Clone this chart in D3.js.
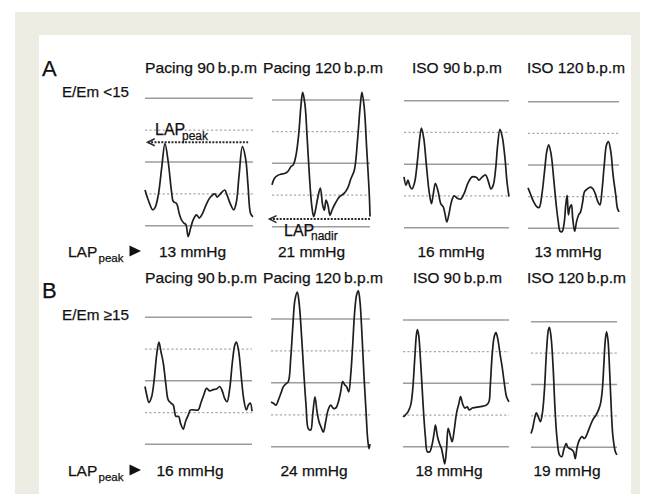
<!DOCTYPE html>
<html><head><meta charset="utf-8">
<script src="https://cdn.jsdelivr.net/npm/d3@7"></script>
<style>body{margin:0;background:#fff}svg{display:block}text{stroke:#111;stroke-width:0.25px;fill:#111}</style>
</head><body><svg id="c" width="654" height="494"></svg>
<script>
// ---------------- data ----------------
const rowLetters = ["A", "B"];
const rowConditions = ["E/Em <15", "E/Em \u226515"];
const protocols = ["Pacing 90\u2009b.p.m", "Pacing 120\u2009b.p.m", "ISO 90\u2009b.p.m", "ISO 120\u2009b.p.m"];
const lapPeakA = [13, 21, 16, 13];   // mmHg
const lapPeakB = [16, 24, 18, 19];   // mmHg
const gridLevels = [0, 5, 10, 15, 20]; // mmHg
const solidLevels = [0, 10, 20];
const lapPeakMarkerA1 = 13.1;  // mmHg, dotted arrow in A / Pacing 90
const lapNadirMarkerA2 = 1.2;  // mmHg, dotted arrow in A / Pacing 120

// waveforms: [time (% of window), LAP (mmHg)]
const waveA1 = [[0,5.6],[3.1,4.0],[7.1,2.5],[9.2,2.8],[12.3,4.8],[15.4,9.0],[18.5,12.9],[21.5,10.0],[24.6,5.3],[26.2,3.8],[29.2,3.5],[31.7,1.9],[33.8,0.9],[36,0.4],[37.8,0.2],[40,-1.7],[42.2,-0.4],[44.6,0.9],[47.7,1.7],[50.2,1.2],[53.2,1.9],[56.9,3.4],[60.6,4.5],[64.6,5.0],[66.8,4.5],[69.8,5.0],[73.8,5.6],[76,4.8],[79.1,3.4],[82.2,2.5],[84.6,3.7],[87.1,7.9],[90.2,12.4],[93.2,10.5],[95.4,6.3],[97.8,1.9],[100,1.4]];
const waveA2 = [[0,6.6],[2.4,7.6],[5.8,8.1],[9.2,8.3],[12.6,8.4],[16,8.7],[19.4,9.5],[21.8,9.8],[24.5,11.3],[27.2,14.5],[29.6,19.2],[31.3,21.2],[33.7,19.2],[35.7,14.5],[38.1,8.2],[40.5,3.4],[42.5,1.6],[44.2,2.5],[46.6,4.5],[49.3,6.1],[51.7,3.4],[53.4,2.6],[55.1,4.2],[57.1,3.4],[59.2,1.8],[61.2,2.6],[64.6,3.7],[68.7,4.7],[73.8,5.3],[77.2,6.1],[80.6,7.6],[84,8.9],[87.4,13.9],[90.1,19.2],[91.8,21.2],[94.2,18.7],[96.6,12.4],[99.3,5.0],[100,1.6]];
const waveA3 = [[0,8.0],[1.9,6.7],[3.8,7.5],[5.7,6.5],[7.6,6.1],[10.2,7.2],[12.7,10.4],[15,14.1],[16.6,15.7],[18.8,14.1],[21.3,9.9],[23.9,5.7],[26.1,3.8],[27.7,5.1],[29.9,7.0],[32.5,5.7],[35,3.8],[37.3,3.3],[38.9,2.3],[40.8,0.9],[43,2.3],[45.2,4.1],[47.8,5.0],[51,4.6],[54.1,4.5],[57.3,5.4],[61.1,7.1],[65,8.0],[69.1,7.9],[71.3,7.5],[74.5,8.0],[77.7,8.3],[80.3,7.3],[82.8,6.1],[85,6.7],[87.3,9.3],[89.2,13.0],[91.4,15.5],[93.6,14.3],[96.2,10.9],[98.1,7.2],[100,4.9]];
const waveA4 = [[0,6.4],[2.5,5.5],[6.1,4.2],[9.7,3.4],[12.3,3.3],[15.2,5.3],[18.1,8.9],[20.6,12.1],[22.7,13.2],[25.3,11.8],[28.2,7.9],[31,3.7],[33.2,1.1],[35.4,-0.5],[37.5,-0.5],[39.7,0.8],[41.5,3.7],[43,5.2],[44.4,2.1],[45.8,3.2],[47.7,3.7],[49.1,1.6],[51.3,-0.5],[53.4,1.1],[55.6,2.1],[57.8,2.6],[60.1,4.2],[62.1,5.8],[65,6.2],[68.6,6.5],[71.5,6.2],[74.4,5.3],[76.5,4.3],[79.1,3.7],[81.2,5.8],[83.8,10.0],[86.3,13.2],[88.4,13.7],[91,12.1],[93.5,8.4],[96.4,5.3],[98.2,3.2],[100,2.6]];
const waveB1 = [[0,9.1],[1.6,7.8],[3.7,6.6],[6.2,7.5],[8.4,9.9],[10.9,14.1],[13,16.1],[14.9,14.6],[17.1,12.8],[19.6,9.3],[21.7,7.0],[24.2,6.5],[26.4,6.2],[28.9,4.4],[31.4,4.4],[33.2,3.3],[35.7,2.4],[37.9,3.6],[40.4,4.6],[42.5,5.4],[46.6,5.4],[49.7,5.4],[52.2,6.5],[55,7.8],[57.5,8.8],[60.6,8.4],[63.7,8.6],[66.8,8.7],[69.9,9.1],[72.4,8.3],[74.5,7.2],[76.7,6.7],[79.2,8.8],[81.7,13.0],[83.9,15.6],[85.4,16.1],[87.6,14.6],[90.1,10.4],[92.2,7.2],[94.7,5.4],[96.6,6.2],[98.4,6.5],[100,5.2]];
const waveB2 = [[0,7.0],[2.4,6.8],[5.1,6.5],[7.4,7.3],[10.1,8.4],[12.5,9.4],[14.8,9.8],[17.5,10.2],[19.9,13.8],[21.9,18.5],[24.2,23.0],[26.6,24.2],[28.6,22.2],[31,17.0],[33.3,11.2],[35.4,6.5],[37.7,2.8],[40.1,2.6],[42.1,5.0],[44.4,7.8],[46.5,5.5],[48.5,3.9],[50.5,3.1],[52.9,2.3],[55.2,3.9],[57.6,5.7],[60.3,6.5],[63,6.0],[65.7,6.1],[68,7.0],[70.4,8.6],[72.4,10.2],[74.4,9.7],[76.4,9.4],[78.5,8.6],[80.5,11.2],[82.5,15.9],[84.5,21.1],[86.5,23.8],[88.2,24.4],[89.9,22.7],[91.9,17.5],[93.9,11.2],[96,5.5],[97.6,1.3],[99,-0.3],[100,0.4]];
const waveB3 = [[0,4.7],[2.2,5.0],[4.7,5.5],[7.3,6.6],[9.1,8.9],[11,13.7],[12.6,17.6],[13.6,18.5],[14.8,17.6],[16.7,13.2],[18.9,6.8],[21.1,1.6],[23,-0.8],[25.2,-0.8],[27.4,0.3],[29.3,2.1],[30.6,3.4],[32.5,1.6],[34.4,0.5],[36.3,-0.3],[37.9,-1.6],[39.4,-2.7],[41,-0.5],[42.6,2.9],[44.5,1.8],[46.4,0.8],[48.3,2.6],[50.5,5.3],[52.7,6.8],[54.3,7.9],[56.2,6.8],[58.4,6.1],[60.6,6.3],[62.5,5.8],[65.3,6.1],[68.5,6.2],[71.6,6.3],[75.7,6.4],[78.9,6.6],[81.1,7.1],[82.3,9.5],[84.2,14.7],[86.1,17.4],[87.7,18.0],[89.3,17.1],[91.5,14.7],[93.7,12.4],[95.6,10.0],[97.8,7.8],[100,7.1]];
const waveB4 = [[0,2.2],[1.9,3.0],[3.9,4.4],[6.2,5.5],[8.6,4.8],[10.9,4.1],[13.2,5.4],[15.6,9.1],[17.9,15.0],[20.2,18.7],[21.4,19.1],[23.3,17.6],[25.7,12.8],[28,5.9],[30.4,1.2],[33.1,-1.2],[35.8,-1.5],[38.1,-0.4],[40.9,0.6],[42.8,0],[44.7,-0.2],[46.7,-0.3],[49.4,-0.7],[51.4,-1.8],[53.7,0.1],[56.4,1.2],[59.1,1.7],[62.3,1.4],[65.4,2.2],[68.5,3.3],[72,4.4],[75.5,5.1],[78.6,6.0],[80.9,7.0],[82.9,9.1],[84.8,13.4],[86.4,17.1],[87.9,18.4],[89.5,17.1],[91.4,12.3],[93.4,5.9],[95.3,1.7],[98.1,-0.7],[100,-1.2]];

const waves = [[waveA1, waveA2, waveA3, waveA4], [waveB1, waveB2, waveB3, waveB4]];
const lapPeaks = [lapPeakA, lapPeakB];

// ---------------- layout ----------------
const FONT = "'Liberation Sans', Arial, Helvetica, sans-serif";
const svg = d3.select("#c");
svg.append("rect").attr("x", 15).attr("y", 12).attr("width", 625).attr("height", 494).attr("fill", "#edece2");
svg.append("rect").attr("x", 39).attr("y", 35).attr("width", 592).attr("height", 470).attr("fill", "#ffffff");

const layout = [
  { letterY: 76, condY: 97, titleY: 72.5, valueY: 257,
    px: [[145,253],[272,370],[404,509],[528,619]],
    py: [[225.7,98.3],[226.7,100],[227.7,100.7],[228.3,101.7]],
    titleX: [145,263,412,527], titleW: [112,120,90,98],
    valueC: [192.5,311.5,451,568] },
  { letterY: 298, condY: 320, titleY: 283, valueY: 476,
    px: [[145,252],[271,370],[403,509],[531,617]],
    py: [[444.3,317.3],[446.7,319],[446.7,320],[447.3,321.7]],
    titleX: [145,263,413,527], titleW: [112,120,89,99],
    valueC: [190,314,449,567] }
];

const scalesByPanel = [];
layout.forEach((L, r) => {
  svg.append("text").attr("x", 42).attr("y", L.letterY).attr("font-family", FONT)
     .attr("font-size", 22).text(rowLetters[r]);
  svg.append("text").attr("x", 62).attr("y", L.condY).attr("font-family", FONT)
     .attr("font-size", 15).attr("textLength", 67).attr("lengthAdjust", "spacingAndGlyphs")
     .text(rowConditions[r]);
  // LAPpeak ▶ label
  const ly = L.valueY;
  svg.append("text").attr("x", 68).attr("y", ly).attr("font-family", FONT)
     .attr("font-size", 15.5).text("LAP");
  svg.append("text").attr("x", 98.5).attr("y", ly + 4.5).attr("font-family", FONT)
     .attr("font-size", 11.5).text("peak");
  svg.append("path").attr("d", `M129.5,${ly-11.5} L141,${ly-6} L129.5,${ly-0.5} Z`).attr("fill", "#111");
  scalesByPanel[r] = [];
  protocols.forEach((p, c) => {
    svg.append("text").attr("x", L.titleX[c]).attr("y", L.titleY).attr("font-family", FONT)
       .attr("font-size", 15)
       .attr("textLength", L.titleW[c]).attr("lengthAdjust", "spacingAndGlyphs").text(p);
    svg.append("text").attr("x", L.valueC[c]).attr("y", ly).attr("text-anchor", "middle")
       .attr("font-family", FONT).attr("font-size", 15.5)
       .text(lapPeaks[r][c] + " mmHg");
    const x = d3.scaleLinear().domain([0, 100]).range(L.px[c]);
    const y = d3.scaleLinear().domain([0, 20]).range(L.py[c]);
    scalesByPanel[r][c] = { x, y };
    const g = svg.append("g");
    g.selectAll("line.grid").data(gridLevels).join("line")
      .attr("x1", x(0)).attr("x2", x(100))
      .attr("y1", d => y(d)).attr("y2", d => y(d))
      .attr("stroke", d => solidLevels.includes(d) ? "#9c9c9c" : "#a8a8a8")
      .attr("stroke-width", d => solidLevels.includes(d) ? 1.5 : 1.3)
      .attr("stroke-dasharray", d => solidLevels.includes(d) ? null : "2.2,2.2");
  });
});

// annotation arrows
function dottedArrow(sc, level, t0, t1) {
  const yy = sc.y(level);
  svg.append("line").attr("x1", sc.x(t0)).attr("x2", sc.x(t1)).attr("y1", yy).attr("y2", yy)
     .attr("stroke", "#2a2a2a").attr("stroke-width", 2).attr("stroke-dasharray", "2,1.4");
  const x0 = sc.x(t0);
  svg.append("path").attr("d", `M${x0+7},${yy-3.5} L${x0},${yy} L${x0+7},${yy+3.5}`)
     .attr("fill", "none").attr("stroke", "#2a2a2a").attr("stroke-width", 1.6);
}
dottedArrow(scalesByPanel[0][0], lapPeakMarkerA1, 2.5, 95.5);
dottedArrow(scalesByPanel[0][1], lapNadirMarkerA2, -2.5, 100);

// labels for markers
function subLabel(x, y, main, sub) {
  svg.append("text").attr("x", x).attr("y", y).attr("font-family", FONT)
     .attr("font-size", 16).text(main);
  svg.append("text").attr("x", x + 27).attr("y", y + 4.5).attr("font-family", FONT)
     .attr("font-size", 12).text(sub);
}
subLabel(155, 135, "LAP", "peak");
subLabel(284, 235.5, "LAP", "nadir");

// waveforms
const line = d3.line().curve(d3.curveCatmullRom.alpha(0.5));
waves.forEach((row, r) => row.forEach((w, c) => {
  const { x, y } = scalesByPanel[r][c];
  svg.append("path")
     .attr("d", line.x(d => x(d[0])).y(d => y(d[1]))(w))
     .attr("fill", "none").attr("stroke", "#1e1e1e").attr("stroke-width", 1.7)
     .attr("stroke-linejoin", "round");
}));
</script></body></html>
